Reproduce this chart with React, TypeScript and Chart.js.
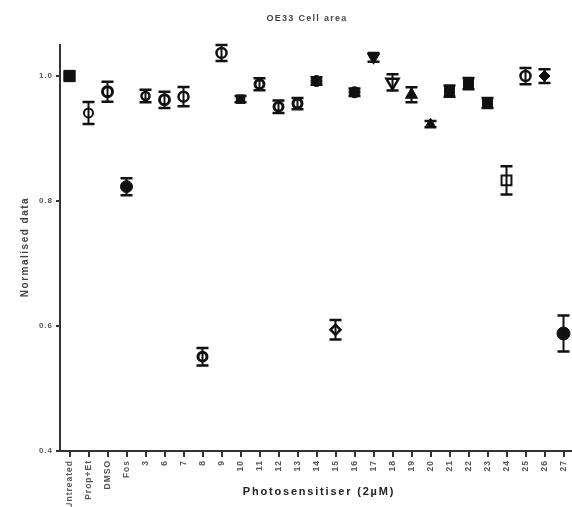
import React, { useEffect, useRef } from 'react';
import { Chart, registerables } from 'chart.js';

Chart.register(...registerables);

const labels = ['Untreated', 'Prop+Et', 'DMSO', 'Fos', '3', '6', '7', '8', '9', '10', '11', '12', '13', '14', '15', '16', '17', '18', '19', '20', '21', '22', '23', '24', '25', '26', '27'];
const means = [1.0, 0.941, 0.975, 0.823, 0.968, 0.962, 0.967, 0.551, 1.037, 0.963, 0.987, 0.951, 0.956, 0.992, 0.594, 0.974, 1.03, 0.99, 0.97, 0.923, 0.976, 0.988, 0.957, 0.833, 1.0, 1.0, 0.588];
const errors = [0, 0.0176, 0.016, 0.0136, 0.01, 0.013, 0.0155, 0.014, 0.0128, 0.005, 0.0096, 0.01, 0.009, 0.006, 0.0155, 0.006, 0.007, 0.013, 0.012, 0.005, 0.009, 0.009, 0.008, 0.0226, 0.013, 0.011, 0.0288];
const yTicks = [0.4, 0.6, 0.8, 1.0];

const chartTitle = 'OE33 Cell area';
const xTitle = 'Photosensitiser (2\u00B5M)';
const yTitle = 'Normalised data';

// marker styling per point
const pStyles = ['rect', 'circle', 'circle', 'circle', 'circle', 'circle', 'circle', 'circle', 'circle', 'rect', 'circle', 'circle', 'circle', 'circle', 'rectRot', 'circle', 'triangle', 'triangle', 'triangle', 'triangle', 'rect', 'rect', 'rect', 'rect', 'circle', 'rectRot', 'circle'];
const pRadius = [8, 4.5, 5, 6, 4, 5, 5, 4.5, 5, 6, 4.5, 4.5, 4.5, 5.5, 5, 5.5, 7, 7, 7, 6, 7, 7, 7, 7, 5, 5.5, 6.5];
const pFilled = [1, 0, 0, 1, 0, 0, 0, 0, 0, 1, 0, 0, 0, 1, 0, 1, 1, 0, 1, 1, 1, 1, 1, 0, 0, 1, 1];
const pBorder = [1, 2, 3, 1, 2.5, 3, 2.5, 3, 2.5, 1, 3, 3, 3, 1, 2.5, 1, 1, 2.5, 1, 1, 1, 1, 1, 2, 2.5, 1, 1];
const pRotation = [0, 0, 0, 0, 0, 0, 0, 0, 0, 0, 0, 0, 0, 0, 0, 0, 180, 180, 0, 0, 0, 0, 0, 0, 0, 0, 0];

const FONT = '"Liberation Sans", Arial, Helvetica, sans-serif';

export default function App() {
  const ref = useRef<HTMLCanvasElement | null>(null);

  useEffect(() => {
    const canvas = ref.current;
    if (!canvas) return;

    const errorBars = {
      id: 'errorBars',
      afterDatasetsDraw(chart: any) {
        const { ctx } = chart;
        const xs = chart.scales.x;
        const ys = chart.scales.y;
        ctx.save();
        ctx.strokeStyle = '#111';
        means.forEach((m, i) => {
          const e = errors[i];
          if (!e) return;
          const px = xs.getPixelForValue(i);
          const t = ys.getPixelForValue(m + e);
          const b = ys.getPixelForValue(m - e);
          ctx.lineWidth = 2;
          ctx.beginPath();
          ctx.moveTo(px, t);
          ctx.lineTo(px, b);
          ctx.stroke();
          ctx.lineWidth = 2.5;
          ctx.beginPath();
          ctx.moveTo(px - 6, t);
          ctx.lineTo(px + 6, t);
          ctx.moveTo(px - 6, b);
          ctx.lineTo(px + 6, b);
          ctx.stroke();
        });
        ctx.restore();
      },
    };

    const texts = {
      id: 'texts',
      beforeDraw(chart: any) {
        chart.ctx.letterSpacing = '1px';
      },
      afterDraw(chart: any) {
        const ctx = chart.ctx;
        ctx.save();
        ctx.textAlign = 'center';
        ctx.textBaseline = 'middle';
        ctx.fillStyle = '#444';
        ctx.letterSpacing = '1.3px';
        ctx.font = `bold 9px ${FONT}`;
        ctx.fillText(chartTitle, 307, 19);

        ctx.fillStyle = '#222';
        ctx.letterSpacing = '1.8px';
        ctx.font = `bold 11px ${FONT}`;
        ctx.fillText(xTitle, 319, 492);

        ctx.translate(25, 247);
        ctx.rotate(-Math.PI / 2);
        ctx.fillStyle = '#444';
        ctx.letterSpacing = '1.5px';
        ctx.font = `bold 10px ${FONT}`;
        ctx.fillText(yTitle, 0, 0);
        ctx.restore();
      },
    };

    const chart = new Chart(canvas, {
      type: 'line',
      data: {
        labels,
        datasets: [
          {
            data: means,
            showLine: false,
            pointStyle: pStyles as any,
            pointRadius: pRadius,
            pointRotation: pRotation,
            pointBorderWidth: pBorder,
            pointBorderColor: '#111',
            pointBackgroundColor: pFilled.map((f) => (f ? '#111' : '#fff')),
          },
        ],
      },
      options: {
        responsive: false,
        animation: false,
        events: [],
        layout: { padding: { top: 44.75, right: 6.5, left: 0, bottom: 0 } },
        plugins: {
          legend: { display: false },
          tooltip: { enabled: false },
          title: { display: false },
        },
        scales: {
          x: {
            type: 'category',
            offset: true,
            grid: {
              display: true,
              drawOnChartArea: false,
              drawTicks: true,
              tickLength: 6,
              lineWidth: 2,
              color: '#333',
              offset: false,
            },
            border: { display: true, color: '#333', width: 2 },
            ticks: {
              autoSkip: false,
              maxRotation: 90,
              minRotation: 90,
              padding: 3,
              color: '#555',
              font: { family: FONT, size: 8.5, weight: 'bold' },
            },
            afterFit: (s: any) => {
              s.height = 56;
            },
          },
          y: {
            type: 'linear',
            min: 0.4,
            max: 1.05,
            afterBuildTicks: (s: any) => {
              s.ticks = yTicks.map((v) => ({ value: v }));
            },
            grid: {
              display: true,
              drawOnChartArea: false,
              drawTicks: true,
              tickLength: 4,
              lineWidth: 2,
              color: '#333',
            },
            border: { display: true, color: '#333', width: 2 },
            ticks: {
              padding: 3,
              color: '#555',
              font: { family: FONT, size: 8, weight: 'bold' },
              callback: (v: any) => Number(v).toFixed(1),
            },
            afterFit: (s: any) => {
              s.width = 60;
            },
          },
        },
      } as any,
      plugins: [errorBars, texts],
    });

    return () => chart.destroy();
  }, []);

  return (
    <div
      style={{
        position: 'fixed',
        left: 0,
        top: 0,
        width: 572,
        height: 507,
        overflow: 'hidden',
        background: '#fff',
      }}
    >
      <canvas ref={ref} width={582} height={507} style={{ display: 'block', width: 582, height: 507 }} />
    </div>
  );
}
